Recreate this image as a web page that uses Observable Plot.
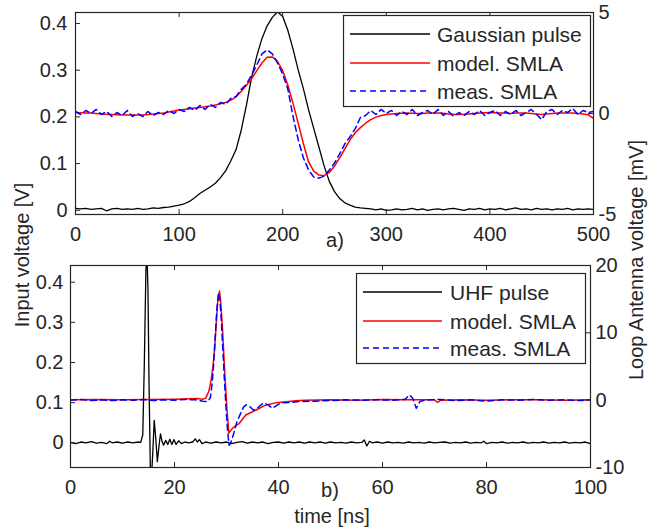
<!DOCTYPE html>
<html><head><meta charset="utf-8">
<script src="https://cdn.jsdelivr.net/npm/d3@7"></script>
<script src="https://cdn.jsdelivr.net/npm/@observablehq/plot@0.6"></script>
<style>
body{margin:0;background:#fff;}
#wrap{position:relative;width:672px;height:527px;overflow:hidden;font-family:"Liberation Sans",Arial,Helvetica,sans-serif;color:#262626;background:#fff;}
.layer{position:absolute;left:0;}
.lbl{position:absolute;font-size:20px;line-height:1;white-space:nowrap;transform:translate(-50%,-50%);}
.rot{transform:translate(-50%,-50%) rotate(-90deg);}
svg{overflow:visible;}
</style></head><body><div id="wrap"></div>
<script>
// ---------- Panel a) data ----------
const aTime = [0,5,10,15,20,25,30,35,40,45,50,55,60,65,70,75,80,85,90,95,100,105,110,115,120,125,130,135,140,145,150,155,160,165,170,175,180,185,190,195,200,205,210,215,220,225,230,235,240,245,250,255,260,265,270,275,280,285,290,295,300,305,310,315,320,325,330,335,340,345,350,355,360,365,370,375,380,385,390,395,400,405,410,415,420,425,430,435,440,445,450,455,460,465,470,475,480,485,490,495,500];
// Gaussian pulse, input voltage [V]
const aGauss = [0.004,0.003,0.004,0.002,0.003,0.004,-0.001,0.003,0.004,0.002,0.003,0.002,0.004,0.002,0.003,0.005,0.004,0.006,0.007,0.009,0.011,0.014,0.019,0.027,0.036,0.043,0.05,0.058,0.07,0.085,0.106,0.13,0.172,0.225,0.285,0.33,0.368,0.395,0.413,0.425,0.415,0.385,0.345,0.3,0.26,0.215,0.175,0.135,0.095,0.062,0.04,0.025,0.016,0.011,0.007,0.005,0.004,0.003,0.001,0.003,0.0,0.001,0.003,0.001,0.002,0.004,0.001,0.003,0.0,0.002,0.003,0.001,0.003,0.004,0.002,0.0,0.003,0.002,0.004,0.001,0.003,0.002,0.004,0.001,0.003,0.005,0.002,0.003,0.001,0.004,0.002,0.003,0.001,0.003,0.002,0.004,0.001,0.003,0.002,0.003,0.002];
// model. SMLA [mV]
const aModel = [0.05,0.04,0.03,0.02,0.0,-0.02,-0.04,-0.05,-0.06,-0.07,-0.08,-0.08,-0.08,-0.07,-0.05,-0.02,0.0,0.03,0.07,0.12,0.17,0.2,0.23,0.27,0.3,0.33,0.37,0.42,0.48,0.55,0.66,0.82,1.1,1.4,1.72,2.12,2.5,2.78,2.8,2.58,2.12,1.4,0.5,-0.5,-1.5,-2.4,-2.85,-3.05,-3.08,-2.92,-2.6,-2.2,-1.75,-1.3,-0.95,-0.7,-0.48,-0.3,-0.18,-0.1,-0.05,-0.02,0,0.01,0.02,0.01,0,0,0.02,0.03,0.03,0.01,-0.02,-0.04,-0.05,-0.04,-0.02,0,0.02,0.04,0.05,0.04,0.03,0.02,0,0.02,0.03,0.02,0,-0.02,-0.05,-0.03,0,0.02,0.03,0.03,0.02,0,-0.02,-0.06,-0.25];
// meas. SMLA [mV]
const aMeas = [0.1,-0.05,0.15,0.0,0.2,-0.05,0.1,-0.15,0.05,-0.1,0.15,-0.15,0.0,-0.15,0.1,-0.1,0.05,-0.05,0.15,0.0,0.2,0.1,0.3,0.15,0.4,0.2,0.45,0.3,0.55,0.45,0.75,0.85,1.2,1.45,1.9,2.4,2.95,3.15,2.95,2.5,1.95,1.2,-0.15,-1.3,-2.2,-2.8,-3.15,-3.2,-3.1,-2.8,-2.45,-2.0,-1.5,-1.15,-0.75,-0.2,-0.1,0.15,-0.05,0.2,0.0,0.15,-0.1,0.1,-0.05,0.2,-0.1,0.05,0.15,-0.05,0.2,-0.1,0.1,-0.15,0.05,-0.1,0.1,-0.05,0.15,-0.1,0.05,0.15,-0.1,0.1,-0.05,0.15,-0.1,0.05,0.2,-0.05,-0.3,0.1,0.2,-0.05,0.15,0.05,0.25,-0.05,0.15,0.05,0.1];
const aXTicks = [0,100,200,300,400,500];
const aLeftTicks = [0,0.1,0.2,0.3,0.4];
const aRightTicks = [-5,0,5];

// ---------- Panel b) data ([time ns, value]) ----------
const bUhf = [[0,0.001],[1,-0.002],[2,0.002],[3,0.0],[4,0.003],[5,-0.001],[6,0.001],[7,-0.002],[7.5,0.004],[8,0.0],[9,0.002],[10,-0.001],[11,0.002],[12,0.0],[13,0.002],[13.5,0.001],[13.9,0.02],[14.2,0.2],[14.5,0.43],[14.7,0.47],[14.9,0.38],[15.1,0.15],[15.35,-0.06],[15.55,-0.09],[15.8,-0.03],[16.1,0.056],[16.4,0.01],[16.7,-0.047],[17.0,-0.01],[17.3,0.022],[17.6,0.004],[17.9,-0.006],[18.3,0.006],[18.7,-0.004],[19.1,0.009],[19.5,-0.004],[19.9,0.008],[20.3,-0.004],[20.8,0.005],[21.3,-0.002],[22,0.002],[22.7,0.0],[23.5,0.002],[24.0,0.01],[24.4,0.002],[24.8,0.008],[25.3,-0.002],[26,0.002],[27,-0.001],[28,0.002],[29,0.0],[30,0.002],[31,-0.002],[32,0.001],[33,0.003],[34,-0.001],[35,0.002],[36,0.0],[37,0.002],[38,-0.002],[39,0.001],[40,0.002],[41,-0.001],[42,0.002],[43,0.0],[44,0.002],[45,-0.001],[46,0.002],[47,0.0],[48,0.002],[49,-0.001],[50,0.002],[51,0.0],[52,0.001],[53,-0.001],[54,0.002],[55,0.0],[56,0.001],[56.5,0.007],[57,-0.008],[57.5,0.004],[58,0.0],[59,0.002],[60,-0.001],[61,0.002],[62,0.0],[63,0.001],[64,-0.001],[65,0.002],[66,0.0],[67,0.001],[68,-0.001],[69,0.002],[70,0.0],[71,0.001],[72,0.002],[73,-0.001],[74,0.001],[75,0.0],[76,0.002],[77,-0.001],[78,0.001],[79,0.0],[79.5,0.004],[80,-0.002],[81,0.001],[82,0.0],[83,0.002],[84,-0.001],[85,0.001],[86,0.0],[87,0.002],[88,-0.001],[89,0.001],[90,0.0],[91,0.002],[92,-0.001],[93,0.001],[94,0.0],[95,0.002],[96,-0.001],[97,0.001],[98,0.0],[99,0.002],[100,-0.002]];
const bModel = [[0,0.05],[5,0.1],[10,0.05],[15,0.1],[20,0.15],[24.4,0.25],[25.5,0.15],[26,0.3],[26.6,1.3],[27,2.8],[27.4,5],[27.7,7.5],[28,11],[28.3,14.5],[28.65,16.2],[28.9,14.5],[29.2,11],[29.5,6.5],[29.8,2.3],[30.1,-1.5],[30.45,-4.9],[30.8,-4.5],[31.4,-4.0],[32.4,-3.5],[33.7,-2.2],[35.6,-1.5],[37.5,-0.74],[39.4,-0.4],[41.5,-0.25],[43.3,-0.1],[45,0],[50,0.05],[55,0],[60,0.1],[65,0.05],[70,0.05],[70.6,-0.35],[71.2,0],[75,0.05],[80,0],[85,0.05],[90,0.05],[95,0],[100,0.05]];
const bMeas = [[0,0],[2,0.1],[4,-0.05],[6,0.05],[8,-0.05],[10,0.05],[12,0],[14,0.1],[16,-0.05],[18,0.05],[20,0],[22,0.1],[24,0.05],[25.5,-0.15],[26.4,-0.2],[26.9,0.4],[27.2,2.2],[27.5,5],[27.8,9],[28.1,13],[28.45,16],[28.7,15.2],[29,12],[29.3,7.5],[29.6,3],[29.9,-1],[30.2,-4.5],[30.5,-6.7],[30.8,-6.4],[31.4,-4.9],[32,-3.2],[32.7,-2.0],[33.3,-1.0],[33.8,-0.7],[34.4,-0.9],[35.2,-1.5],[35.8,-1.3],[36.5,-0.8],[37.2,-0.4],[38,-0.7],[38.8,-1.2],[39.6,-0.8],[40.5,-0.4],[42,-0.35],[44,-0.2],[47,-0.15],[50,-0.05],[53,0.05],[56,0],[59,0.05],[62,0],[64.3,0.1],[65.2,0.8],[65.8,0.3],[66.5,-1.2],[67.2,-0.2],[68,0],[71,0.1],[74,-0.05],[77,0.05],[80,-0.15],[83,0.05],[86,0],[89,0.1],[92,0],[95,0.05],[98,-0.05],[100,0.05]];
const bXTicks = [0,20,40,60,80,100];
const bLeftTicks = [0,0.1,0.2,0.3,0.4];
const bRightTicks = [-10,0,10,20];

const legendA = ["Gaussian pulse","model. SMLA","meas. SMLA"];
const legendB = ["UHF pulse","model. SMLA","meas. SMLA"];

// ---------- rendering ----------
const FONT = '"Liberation Sans", Arial, Helvetica, sans-serif';
const INK = "#262626";
const wrap = document.getElementById("wrap");
const TL = 5; // inward tick length

function place(el, top){ el.classList.add("layer"); el.style.top = top+"px"; wrap.appendChild(el); }

function panel(cfg){
  const H = cfg.height;
  const base = {width:672, height:H, marginTop:cfg.mt, marginBottom:cfg.mb, marginLeft:cfg.ml, marginRight:cfg.mr,
    style:{background:"transparent", fontFamily:FONT, fontSize:"20px", color:INK}};
  const ph = H - cfg.mt - cfg.mb;
  // left (V) layer
  const left = Plot.plot({...base,
    x:{domain:cfg.xDomain, axis:null},
    y:{domain:cfg.yLeft, axis:null},
    marks:[
      Plot.line(cfg.black, {x:d=>d[0], y:d=>d[1], stroke:"#000", strokeWidth:1.3, clip:true}),
      Plot.tickX(cfg.xTicks, {x:d=>d, stroke:INK, insetBottom:ph-TL}),
      Plot.tickX(cfg.xTicks, {x:d=>d, stroke:INK, insetTop:ph-TL}),
      Plot.tickY(cfg.leftTicks, {y:d=>d, stroke:INK, insetRight:(672-cfg.ml-cfg.mr)-TL}),
      Plot.axisX(cfg.xTicks, {anchor:"bottom", tickSize:0, tickPadding:12, label:null, tickFormat:d=>String(d), fill:INK}),
      Plot.axisY(cfg.leftTicks, {anchor:"left", tickSize:0, tickPadding:cfg.lpad, label:null, tickFormat:d=>String(d), fill:INK})
    ]});
  // right (mV) layer
  const right = Plot.plot({...base,
    x:{domain:cfg.xDomain, axis:null},
    y:{domain:cfg.yRight, axis:null},
    marks:[
      Plot.line(cfg.red, {x:d=>d[0], y:d=>d[1], stroke:"#ff0000", strokeWidth:1.5, clip:true}),
      Plot.line(cfg.blue, {x:d=>d[0], y:d=>d[1], stroke:"#0000ff", strokeWidth:1.5, strokeDasharray:"6,4", clip:true}),
      Plot.tickY(cfg.rightTicks, {y:d=>d, stroke:INK, insetLeft:(672-cfg.ml-cfg.mr)-TL}),
      Plot.axisY(cfg.rightTicks, {anchor:"right", tickSize:0, tickPadding:5, label:null, tickFormat:d=>String(d), fill:INK}),
      Plot.frame({stroke:INK, strokeWidth:1.2})
    ]});
  place(left, cfg.top); place(right, cfg.top);
}

panel({top:0, height:240, mt:12, mb:26, ml:75, mr:79, lpad:8,
  xDomain:[0,500], yLeft:[-0.009,0.4235], yRight:[-5,5],
  black:aTime.map((t,i)=>[t,aGauss[i]]),
  red:aTime.map((t,i)=>[t,aModel[i]]),
  blue:aTime.map((t,i)=>[t,aMeas[i]]),
  xTicks:aXTicks, leftTicks:aLeftTicks, rightTicks:aRightTicks});

panel({top:240, height:287, mt:25, mb:60, ml:70, mr:82, lpad:7,
  xDomain:[0,100], yLeft:[-0.0615,0.4416], yRight:[-10,20],
  black:bUhf, red:bModel, blue:bMeas,
  xTicks:bXTicks, leftTicks:bLeftTicks, rightTicks:bRightTicks});

// legends
const svg = d3.select(wrap).append("svg").attr("width",672).attr("height",527)
  .style("position","absolute").style("left",0).style("top",0).style("pointer-events","none");
function legend(box, names, rows, x0, x1, tx){
  svg.append("rect").attr("x",box[0]+0.5).attr("y",box[1]+0.5).attr("width",box[2]).attr("height",box[3])
    .attr("fill","#fff").attr("stroke",INK).attr("stroke-width",1.2);
  const styles = [{c:"#000",w:1.3,d:null},{c:"#ff0000",w:1.5,d:null},{c:"#0000ff",w:1.5,d:"6,4"}];
  names.forEach((n,i)=>{
    const s = styles[i];
    const l = svg.append("line").attr("x1",x0).attr("x2",x1).attr("y1",rows[i]).attr("y2",rows[i])
      .attr("stroke",s.c).attr("stroke-width",s.w);
    if(s.d) l.attr("stroke-dasharray",s.d);
    svg.append("text").attr("x",tx).attr("y",rows[i]+7.5).attr("fill",INK)
      .attr("font-family",FONT).attr("font-size",21).text(n);
  });
}
legend([343,15,247,91], legendA, [34,63,91], 350, 430, 437);
legend([356,273,229,90], legendB, [292,321,348], 363, 442, 450);

// text labels
function label(txt, x, y, rot){
  const d = document.createElement("div");
  d.className = "lbl" + (rot ? " rot" : "");
  d.style.left = x+"px"; d.style.top = y+"px";
  d.textContent = txt; wrap.appendChild(d);
}
label("a)", 335, 240);
label("b)", 330, 490);
label("time [ns]", 332, 516);
label("Input voltage [V]", 22, 255, true);
label("Loop Antenna voltage [mV]", 636, 260, true);
</script></body></html>
